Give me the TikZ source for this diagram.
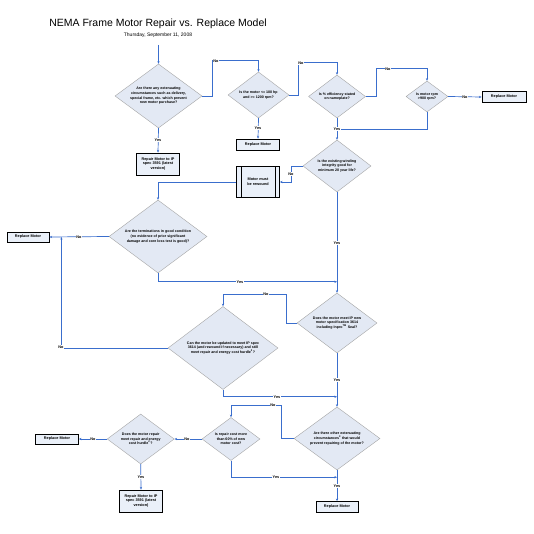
\documentclass[tikz,border=0pt]{standalone}
\usepackage{fontspec}
\setmainfont{Liberation Sans}
\usetikzlibrary{shapes.geometric,arrows.meta,calc}
\definecolor{lineblue}{RGB}{58,110,205}
\definecolor{diafill}{RGB}{227,233,244}
\definecolor{diaedge}{RGB}{165,165,165}
\definecolor{boxfill}{RGB}{234,240,249}
\begin{document}
\begin{tikzpicture}[x=1pt,y=-1pt,
  dia/.style={diamond, draw=diaedge, fill=diafill, line width=0.4pt, inner sep=0pt},
  dtxt/.style={font=\fontsize{3.6}{4.7}\selectfont\bfseries, align=center, inner sep=0pt},
  box/.style={rectangle, draw=black, line width=0.8pt, fill=boxfill, inner sep=0pt, font=\fontsize{3.8}{4.8}\selectfont\bfseries, align=center},
  lab/.style={fill=white, inner sep=0.6pt, font=\fontsize{3.8}{4.5}\selectfont\bfseries},
  conn/.style={draw=lineblue, line width=0.7pt, -{Stealth[length=2.6pt,width=2.2pt]}}]
\fill[white] (0,0) rectangle (534,534);
\useasboundingbox (0,0) rectangle (534,534);
% titles
\node[font=\fontsize{10.5}{12}\selectfont] (title) at (158,24) {NEMA Frame Motor Repair vs. Replace Model};
\node[font=\fontsize{5}{6}\selectfont] (sub) at (158,35) {Thursday, September 11, 2008};
% diamonds
\node[dia, minimum width=87pt, minimum height=64pt] (d1) at (158.5,96) {};
\node[dtxt] at (d1) {Are there any extenuating\\circumstances such as delivery,\\special frame, etc. which prevent\\new motor purchase?};
\node[dia, minimum width=61pt, minimum height=46pt] (d2) at (258.5,95) {};
\node[dtxt] at (d2) {Is the motor <= 100 hp\\and >= 1200 rpm?};
\node[dia, minimum width=57pt, minimum height=43pt] (d3) at (337,96.5) {};
\node[dtxt] at (d3) {Is \% efficiency stated\\on nameplate?};
\node[dia, minimum width=42pt, minimum height=31pt] (d4) at (427,96.5) {};
\node[dtxt] at (d4) {Is motor rpm\\>900 rpm?};
\node[dia, minimum width=68pt, minimum height=52pt] (d5) at (337,166) {};
\node[dtxt] at (d5) {Is the existing winding\\integrity good for\\minimum 20 year life?};
\node[dia, minimum width=98pt, minimum height=73pt] (d6) at (158,236.5) {};
\node[dtxt] at (d6) {Are the terminations in good condition\\(no evidence of prior significant\\damage and core loss test is good)?};
\node[dia, minimum width=80pt, minimum height=60pt] (d7) at (337,323) {};
\node[dtxt] at (d7) {Does the motor meet IP new\\motor specification 3614\\including Inpro\textsuperscript{TM} Seal?};
\node[dia, minimum width=110pt, minimum height=83pt] (d8) at (223,348) {};
\node[dtxt] at (d8) {Can the motor be updated to meet IP spec\\3614 (and rewound if necessary) and still\\meet repair and energy cost hurdle\textsuperscript{2}?};
\node[dia, minimum width=86pt, minimum height=63pt] (d9) at (337,438.5) {};
\node[dtxt] at (d9) {Are there other extenuating\\circumstances\textsuperscript{3} that would\\prevent repairing of the motor?};
\node[dia, minimum width=58pt, minimum height=43pt] (d10) at (231,439) {};
\node[dtxt] at (d10) {Is repair cost more\\than 60\% of new\\motor cost?};
\node[dia, minimum width=67pt, minimum height=50pt] (d11) at (140.7,439) {};
\node[dtxt] at (d11) {Does the motor repair\\meet repair and energy\\cost hurdle\textsuperscript{2}?};
% boxes
\node[box, minimum width=43pt, minimum height=22pt] (r1) at (158,164) {Repair Motor to IP\\spec 3591 (latest\\version)};
\node[box, minimum width=43pt, minimum height=11pt] (rm1) at (258,144.5) {Replace Motor};
\node[box, minimum width=44pt, minimum height=11pt] (rm2) at (504,97) {Replace Motor};
\node[box, minimum width=43pt, minimum height=31pt] (mr) at (258,182) {Motor must\\be rewound};
\draw[line width=0.8pt] ($(mr.north west)+(5,0)$) -- ($(mr.south west)+(5,0)$);
\draw[line width=0.8pt] ($(mr.north east)+(-5,0)$) -- ($(mr.south east)+(-5,0)$);
\node[box, minimum width=42pt, minimum height=10pt] (rm3) at (28,237) {Replace Motor};
\node[box, minimum width=42pt, minimum height=11pt] (rm4) at (337,507) {Replace Motor};
\node[box, minimum width=43pt, minimum height=10pt] (rm5) at (57,439) {Replace Motor};
\node[box, minimum width=43pt, minimum height=22pt] (r2) at (141,501) {Repair Motor to IP\\spec 3591 (latest\\version)};
% connectors
\coordinate (start) at (158.5,45);
\draw[conn] (start) -- (d1.north);
\draw[conn] (d1.south) -- (r1.north);
\draw[conn] (d1.east) -- ++(10,0) |- ($(d2.north)+(0,-11)$) -- (d2.north);
\draw[conn] (d2.south) -- (rm1.north);
\draw[conn] (d2.east) -- ++(9,0) |- ($(d3.north)+(0,-12)$) -- (d3.north);
\draw[conn] (d3.east) -- ++(11,0) |- ($(d4.north)+(0,-12)$) -- (d4.north);
\draw[conn] (d4.east) -- (rm2.west);
\draw[conn] (d4.south) |- ($(d3.south)+(0,11)$);
\draw[conn] (d3.south) -- (d5.north);
\draw[conn] (d5.west) -- ++(-11,0) |- (mr.east);
\draw[conn] (mr.west) -| (d6.north);
\draw[conn] (d6.west) -- (rm3.east);
\draw[conn] (d6.south) |- ($(d7.north)+(0,-11)$);
\draw[conn] (d5.south) -- (d7.north);
\draw[conn] (d7.west) -- ++(-10,0) |- ($(d8.north)+(0,-12)$) -- (d8.north);
\draw[conn] (d8.west) -| ($(rm3.east)+(12,0)$);
\draw[conn] (d7.south) -- (d9.north);
\draw[conn] (d8.south) |- ($(d9.north)+(0,-10)$);
\draw[conn] (d9.west) -- ++(-12,0) |- ($(d10.north)+(0,-12)$) -- (d10.north);
\draw[conn] (d9.south) -- (rm4.north);
\draw[conn] (d10.south) |- ($(d9.south)+(0,7)$);
\draw[conn] (d10.west) -- (d11.east);
\draw[conn] (d11.west) -- (rm5.east);
\draw[conn] (d11.south) -- (r2.north);
% labels
\node[lab] at (158,140) {Yes};
\node[lab] at (216,61) {No};
\node[lab] at (258,128) {Yes};
\node[lab] at (301,63) {No};
\node[lab] at (388,69) {No};
\node[lab] at (465,97) {No};
\node[lab] at (337,129) {Yes};
\node[lab] at (291,174) {No};
\node[lab] at (79,237) {No};
\node[lab] at (240,282) {Yes};
\node[lab] at (337,243) {Yes};
\node[lab] at (266,294.5) {No};
\node[lab] at (61,347) {No};
\node[lab] at (337,380) {Yes};
\node[lab] at (277,397) {Yes};
\node[lab] at (273,405.5) {No};
\node[lab] at (276,477) {Yes};
\node[lab] at (337,486) {Yes};
\node[lab] at (187,439) {No};
\node[lab] at (93,439) {No};
\node[lab] at (141,477) {Yes};
\end{tikzpicture}
\end{document}
